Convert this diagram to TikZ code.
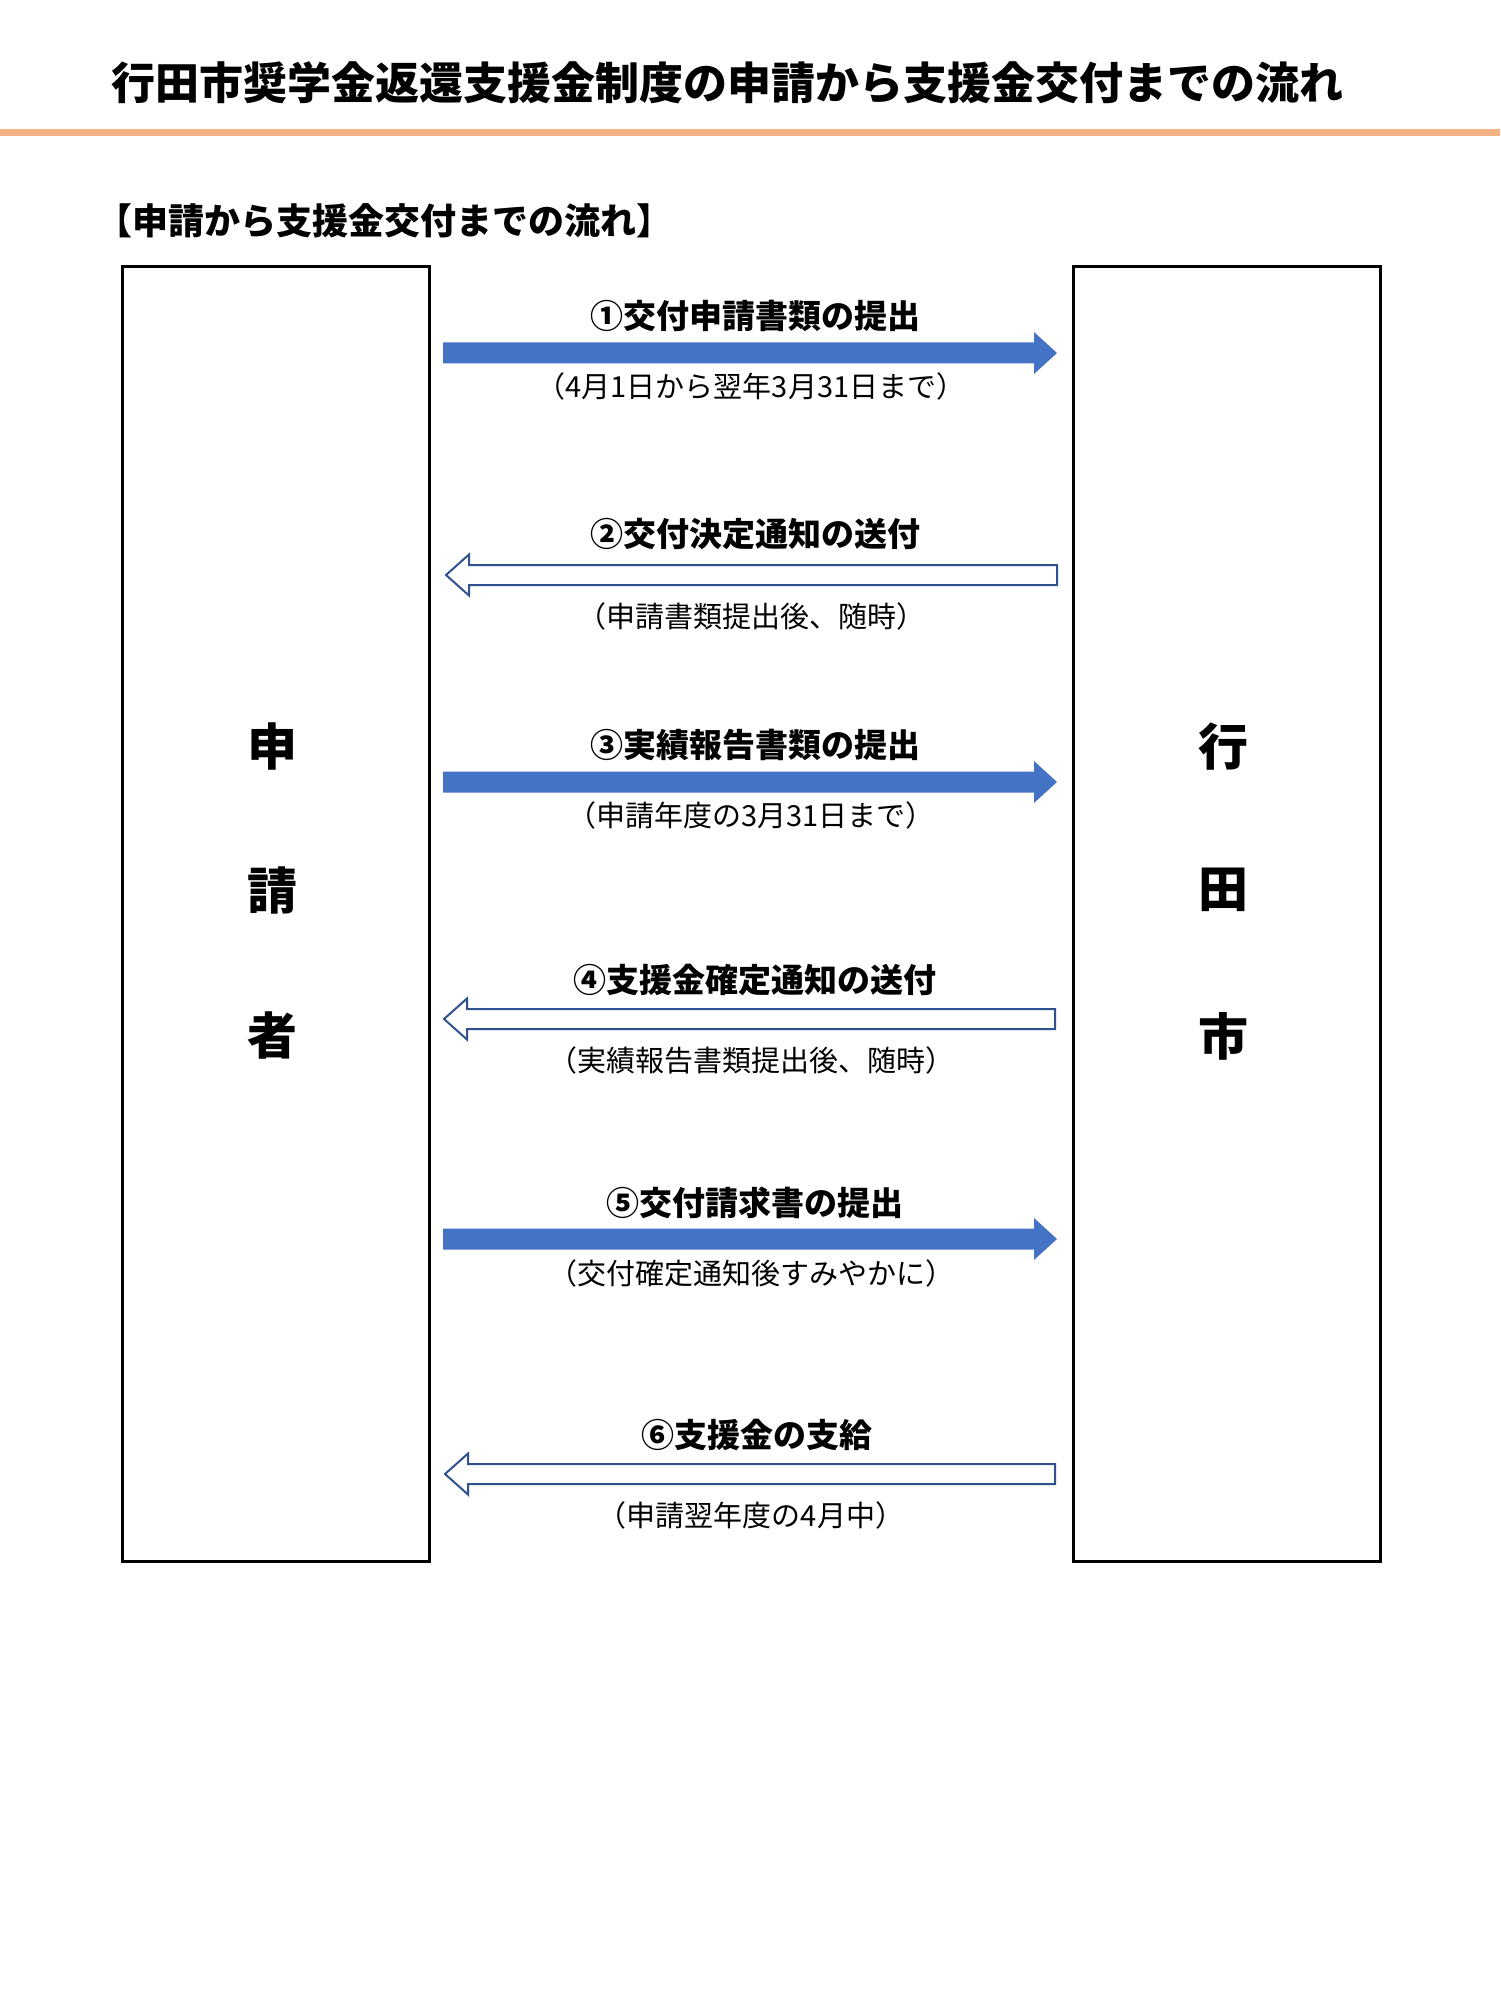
\documentclass[tikz,border=0pt]{standalone}
\usepackage{fontspec}
\newfontfamily\jp{Noto Sans CJK JP}
\usetikzlibrary{calc}
\definecolor{orangeline}{HTML}{F4B183}
\definecolor{fillblue}{HTML}{4472C4}
\definecolor{edgeblue}{HTML}{2F528F}
\tikzset{
  party/.style={draw=black, line width=1.5pt, fill=white},
  bigchar/.style={font=\jp\bfseries\fontsize{25pt}{25pt}\selectfont, inner sep=0pt},
  steplabel/.style={font=\jp\bfseries\fontsize{16.5pt}{16.5pt}\selectfont, inner sep=0pt},
  stepnote/.style={font=\jp\fontsize{14.5pt}{14.5pt}\selectfont, inner sep=0pt},
  fwdarrow/.style={fill=fillblue, draw=none},
  backarrow/.style={fill=white, draw=edgeblue, line width=1pt, line join=miter},
}
\begin{document}
\begin{tikzpicture}[x=0.5pt, y=-0.5pt]
\useasboundingbox (0,0) rectangle (1500,2000);
% title
\node[font=\jp\bfseries\fontsize{22pt}{22pt}\selectfont, anchor=west, inner sep=0pt] (title) at (111,83) {行田市奨学金返還支援金制度の申請から支援金交付までの流れ};
\coordinate (lineL) at (0,133);
\coordinate (lineR) at (1500,133);
\draw[orangeline, line width=3.5pt] (lineL) -- (lineR);
\node[font=\jp\bfseries\fontsize{18pt}{18pt}\selectfont, anchor=west, inner sep=0pt] (subtitle) at (96,221) {【申請から支援金交付までの流れ】};
% boxes
\draw[party] (122,267) rectangle (429,1561);
\draw[party] (1073,267) rectangle (1380,1561);
\node[bigchar] (l1) at (272.5,746) {申};
\node[bigchar] (l2) at (272.5,890) {請};
\node[bigchar] (l3) at (272.5,1036) {者};
\node[bigchar] (r1) at (1223.5,746) {行};
\node[bigchar] (r2) at (1223.5,890) {田};
\node[bigchar] (r3) at (1223.5,1036) {市};
% arrow end coordinates
\coordinate (s1) at (443,353);  \coordinate (e1) at (1057,353);
\coordinate (s2) at (1057,575); \coordinate (e2) at (446,575);
\coordinate (s3) at (443,782);  \coordinate (e3) at (1057,782);
\coordinate (s4) at (1055,1019); \coordinate (e4) at (444,1019);
\coordinate (s5) at (443,1239); \coordinate (e5) at (1057,1239);
\coordinate (s6) at (1055,1474); \coordinate (e6) at (445,1474);
% forward arrows
\foreach \i in {1,3,5}{
  \fill[fwdarrow] ($(s\i)+(0,-10.5)$) -- ($(e\i)+(-23,-10.5)$) -- ($(e\i)+(-23,-21)$) -- (e\i)
    -- ($(e\i)+(-23,21)$) -- ($(e\i)+(-23,10.5)$) -- ($(s\i)+(0,10.5)$) -- cycle;
}
% back arrows
\foreach \i in {2,4,6}{
  \draw[backarrow] ($(s\i)+(0,-10)$) -- ($(e\i)+(23,-10)$) -- ($(e\i)+(23,-20.5)$) -- (e\i)
    -- ($(e\i)+(23,20.5)$) -- ($(e\i)+(23,10)$) -- ($(s\i)+(0,10)$) -- cycle;
}
% labels
\node[steplabel] (t1) at (755,316) {①交付申請書類の提出};
\node[stepnote]  (n1) at (751,386) {（4月1日から翌年3月31日まで）};
\node[steplabel] (t2) at (755,534) {②交付決定通知の送付};
\node[stepnote]  (n2) at (751,616) {（申請書類提出後、随時）};
\node[steplabel] (t3) at (755,745) {③実績報告書類の提出};
\node[stepnote]  (n3) at (751,815) {（申請年度の3月31日まで）};
\node[steplabel] (t4) at (755,980) {④支援金確定通知の送付};
\node[stepnote]  (n4) at (751,1060) {（実績報告書類提出後、随時）};
\node[steplabel] (t5) at (755,1203) {⑤交付請求書の提出};
\node[stepnote]  (n5) at (751,1273) {（交付確定通知後すみやかに）};
\node[steplabel] (t6) at (757,1435) {⑥支援金の支給};
\node[stepnote]  (n6) at (751,1515) {（申請翌年度の4月中）};
\end{tikzpicture}
\end{document}
